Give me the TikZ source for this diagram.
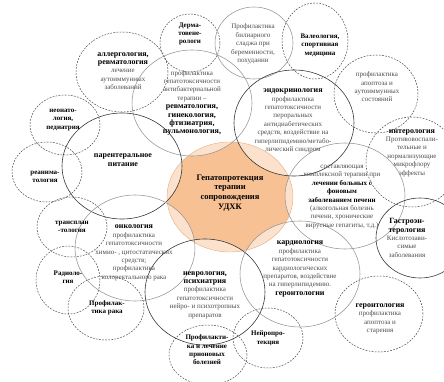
\documentclass[tikz,border=0pt]{standalone}
\usepackage{fontspec}
\setmainfont{Liberation Serif}
\definecolor{ctrdark}{HTML}{F7C194}
\definecolor{ctrlight}{HTML}{FCE2CC}
\definecolor{ctredge}{HTML}{E2B48C}
\newcommand{\bhd}[1]{\textcolor{black}{\textbf{#1}}}
\newcommand{\bhh}[1]{{\fontsize{8}{8.6}\selectfont\textcolor{black}{\textbf{#1}}}}
\begin{document}
\begin{tikzpicture}[x=1pt,y=-1pt,
  dsh/.style={draw=black!72, line width=0.5pt, dash pattern=on 1.8pt off 1.3pt},
  sg/.style={draw=black!42, line width=0.55pt},
  sd/.style={draw=black!78, line width=0.6pt},
  txt/.style={align=center, inner sep=0pt, font=\fontsize{7}{8.4}\selectfont, text=black!70},
  big/.style={x radius=60pt, y radius=53pt},
  ctr/.style={x radius=63pt, y radius=55pt}
]
\useasboundingbox (0,0) rectangle (444,382);
\clip (0,0) rectangle (444,382);
% centres
\coordinate (cC) at (230,197);
\coordinate (cAB) at (192,103);
\coordinate (cEn) at (294,123);
\coordinate (cPa) at (122,166);
\coordinate (cOn) at (135,248);
\coordinate (cNe) at (205,292);
\coordinate (cCa) at (300,274);
\coordinate (cLi) at (345,196);
\coordinate (cGa) at (420,238);
\coordinate (cBi) at (254,43);
\coordinate (cDe) at (190,43);
\coordinate (cVa) at (315,41);
\coordinate (cAp) at (376,94);
\coordinate (cIn) at (412,162);
\coordinate (cAl) at (122,72);
\coordinate (cNo) at (65,125);
\coordinate (cRe) at (47,172);
\coordinate (cTr) at (72,227);
\coordinate (cRa) at (68,280);
\coordinate (cPR) at (106,308);
\coordinate (cPr) at (208,355);
\coordinate (cNP) at (268,338);
\coordinate (cGe) at (379,314);
% central shape
\fill[ctrdark] (cC) ellipse [ctr];
\begin{scope}
  \clip (cC) ellipse [ctr];
  \fill[ctrlight] (cAB) ellipse [big];
  \fill[ctrlight] (cEn) ellipse [big];
  \fill[ctrlight] (cPa) ellipse [big];
  \fill[ctrlight] (cOn) ellipse [big];
  \fill[ctrlight] (cNe) ellipse [big];
  \fill[ctrlight] (cCa) ellipse [big];
  \fill[ctrlight] (cLi) ellipse [big];
\end{scope}
\draw[ctredge, line width=0.4pt] (cC) ellipse [ctr];
% dashed circles
\draw[dsh] (cDe) ellipse [x radius=30pt, y radius=29pt];
\draw[dsh] (cVa) ellipse [x radius=33pt, y radius=38pt];
\draw[dsh] (cAp) ellipse [x radius=42pt, y radius=39pt];
\draw[dsh] (cIn) ellipse [x radius=46pt, y radius=45pt];
\draw[dsh] (cAl) ellipse [x radius=46pt, y radius=40pt];
\draw[dsh] (cNo) ellipse [x radius=35pt, y radius=30pt];
\draw[dsh] (cRe) ellipse [x radius=35pt, y radius=30pt];
\draw[dsh] (cTr) ellipse [x radius=35pt, y radius=30pt];
\draw[dsh] (cRa) ellipse [x radius=32pt, y radius=34pt];
\draw[dsh] (cPR) ellipse [x radius=38pt, y radius=32pt];
\draw[dsh] (cPr) ellipse [x radius=39pt, y radius=30pt];
\draw[dsh] (cNP) ellipse [x radius=35pt, y radius=30pt];
\draw[dsh] (cGe) ellipse [x radius=44pt, y radius=38pt];
% solid circles
\draw[sg] (cBi) ellipse [x radius=39pt, y radius=36pt];
\draw[sg] (cAB) ellipse [big];
\draw[sd] (cEn) ellipse [big];
\draw[sd] (cPa) ellipse [big];
\draw[sg] (cOn) ellipse [big];
\draw[sd] (cNe) ellipse [big];
\draw[sg] (cCa) ellipse [big];
\draw[sg] (cLi) ellipse [big];
\draw[sd] (cGa) ellipse [x radius=44pt, y radius=40pt];
% texts
\node[txt] (tDerma) at (190,34) {\bhd{Дерма-}\\\bhd{товене-}\\\bhd{рологи}};
\node[txt] (tBil) at (253,44) {Профилактика\\билиарного\\сладжа при\\беременности,\\похудании};
\node[txt] (tVal) at (320,45) {\bhd{Валеология,}\\\bhd{спортивная}\\\bhd{медицина}};
\node[txt] (tApA) at (377,87) {профилактика\\апоптоза и\\аутоиммунных\\состояний};
\node[txt] (tAll) at (123,71) {\bhh{аллергология,}\\\bhh{ревматология}\\лечение\\аутоиммунных\\заболеваний};
\node[txt] (tAB) at (192,103) {профилактика\\гепатотоксичности\\антибактериальной\\терапии –\\\bhh{ревматология,}\\\bhh{гинекология,}\\\bhh{фтизиатрия,}\\\bhh{пульмонология,}};
\node[txt] (tEnd) at (293,121) {\bhh{эндокринология}\\профилактика\\гепатотоксичности\\пероральных\\антидиабетических\\средств, воздействие на\\гиперлипидемию/метабо-\\лический синдром};
\node[txt] (tNeo) at (63,120) {\bhd{неонато-}\\\bhd{логия,}\\\bhd{педиатрия}};
\node[txt] (tPar) at (123,160) {\bhh{парентеральное}\\\bhh{питание}};
\node[txt] (tRea) at (45,177) {\bhd{реанима-}\\\bhd{тология}};
\node[txt] (tTr) at (72,227) {\bhd{трансплан}\\\bhd{-тология}};
\node[txt] (tOnc) at (134,253) {\bhh{онкология}\\профилактика\\гепатотоксичности\\химио- , цитостатических\\средств;\\профилактика\\колоректального рака};
\node[txt] (tRad) at (68,277) {\bhd{Радиоло-}\\\bhd{гия}};
\node[txt] (tPR) at (107,308) {\bhd{Профилак-}\\\bhd{тика рака}};
\node[txt] (tNeu) at (205,295) {\bhh{неврология,}\\\bhh{психиатрия}\\профилактика\\гепатотоксичности\\нейро- и психотропных\\препаратов};
\node[txt] (tPri) at (207,350) {\bhd{Профилакти-}\\\bhd{ка и лечение}\\\bhd{прионовых}\\\bhd{болезней}};
\node[txt] (tNP) at (268,338) {\bhd{Нейропро-}\\\bhd{текция}};
\node[txt] (tCar) at (300,269) {\bhh{кардиология}\\профилактика\\гепатотоксичности\\кардиологических\\препаратов, воздействие\\на гиперлипидемию.\\\bhh{геронтологии}};
\node[txt] (tGer) at (380,319) {\bhh{геронтология}\\профилактика\\апоптоза и\\старения};
\node[txt] (tLiv) at (342,197) {составляющая\\комплексной терапии при\\\bhd{лечении больных с}\\\bhd{фоновым}\\\bhd{заболеванием печени}\\(алкогольная болезнь\\печени, хронические\\вирусные гепатиты, т.д.)};
\node[txt] (tInt) at (412,153) {\bhh{интерология}\\Противовоспали-\\тельные и\\нормализующие\\микрофлору\\эффекты};
\node[txt] (tGas) at (407,238) {\bhh{Гастроэн-}\\\bhh{терология}\\Кислотозави-\\симые\\заболевания};
\node[txt, font=\fontsize{8.5}{9.8}\selectfont] (tC) at (230,193) {\bhd{Гепатопротекция}\\\bhd{терапии}\\\bhd{сопровождения}\\\bhd{УДХК}};
\end{tikzpicture}
\end{document}
